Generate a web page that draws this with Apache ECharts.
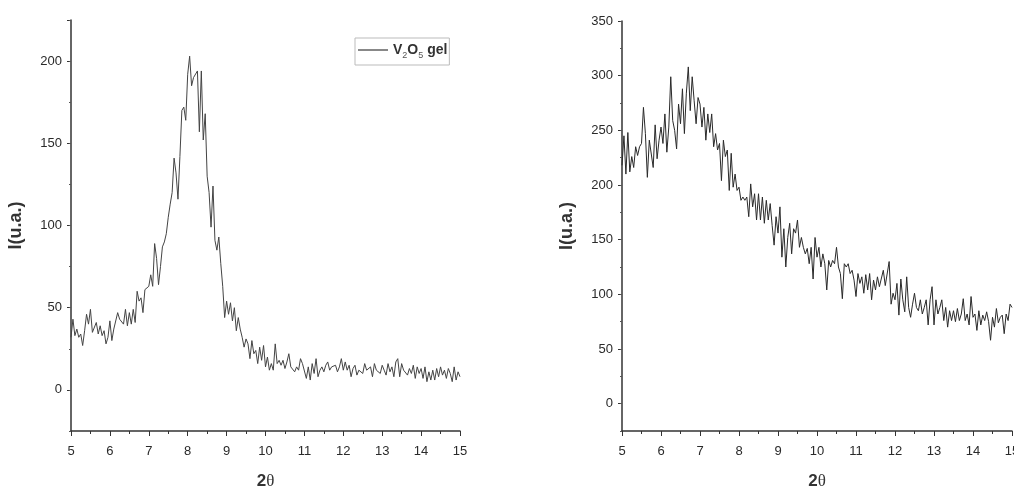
<!DOCTYPE html>
<html>
<head>
<meta charset="utf-8">
<script src="https://cdn.jsdelivr.net/npm/echarts@6/dist/echarts.min.js"></script>
<style>
  html, body { margin: 0; padding: 0; background: #fff; }
  #chart { width: 1014px; height: 490px; }
</style>
</head>
<body>
<div id="chart"></div>
<script>
// 2θ grid: 5 → 15, step 0.05 (20 points per degree)
let thetaStart = 5;
let thetaStep = 0.05;

// left pattern, V2O5 gel
let gelValues = [
  32, 43, 33, 37, 32, 34, 27, 36, 46, 40, 49, 35, 36, 41, 34, 39, 33, 36, 28, 32,
  42, 30, 37, 38, 47, 43, 44, 40, 49, 39, 47, 40, 49, 41, 60, 54, 56, 47, 61, 62,
  63, 70, 63, 89, 80, 64, 75, 87, 90, 95, 105, 113, 120, 141, 132, 116, 142, 170, 172, 164,
  192, 203, 185, 190, 191, 194, 157, 194, 152, 168, 130, 120, 99, 124, 91, 85, 93, 77, 63, 44,
  54, 46, 53, 42, 50, 36, 44, 37, 32, 26, 31, 28, 19, 30, 22, 24, 16, 26, 18, 27,
  14, 20, 12, 16, 12, 28, 16, 18, 15, 18, 13, 17, 22, 14, 13, 11, 14, 12, 19, 16,
  15, 7, 14, 6, 16, 10, 19, 8, 12, 14, 11, 15, 17, 12, 14, 13, 15, 11, 14, 19,
  12, 17, 12, 15, 8, 13, 15, 9, 12, 13, 10, 16, 12, 11, 14, 8, 16, 12, 13, 10,
  15, 12, 9, 16, 11, 14, 8, 17, 19, 8, 16, 12, 11, 9, 13, 10, 15, 7, 14, 10,
  13, 7, 14, 5, 11, 6, 12, 6, 13, 8, 14, 9, 12, 7, 13, 10, 5, 14, 6, 11,
  8
];

// right pattern
let rightValues = [
  218, 245, 210, 248, 212, 226, 216, 235, 227, 235, 238, 271, 247, 207, 241, 242, 216, 255, 224, 241,
  253, 238, 265, 230, 253, 299, 259, 250, 233, 274, 256, 288, 247, 284, 308, 268, 299, 277, 256, 280,
  274, 253, 271, 241, 265, 248, 265, 235, 247, 232, 238, 204, 241, 226, 232, 195, 229, 198, 210, 195,
  198, 186, 189, 186, 189, 171, 201, 180, 192, 168, 192, 168, 189, 165, 186, 168, 183, 163, 145, 171,
  156, 180, 134, 160, 125, 152, 165, 137, 160, 156, 168, 143, 152, 143, 137, 142, 128, 143, 114, 152,
  134, 143, 125, 137, 128, 104, 131, 125, 131, 128, 143, 125, 119, 96, 128, 125, 128, 119, 122, 113,
  98, 119, 110, 116, 101, 118, 104, 119, 95, 113, 104, 116, 107, 108, 122, 108, 107, 130, 91, 101,
  95, 110, 81, 114, 95, 84, 116, 88, 79, 91, 101, 88, 85, 95, 82, 88, 95, 72, 95, 107,
  72, 95, 82, 88, 95, 76, 88, 70, 85, 76, 85, 75, 87, 76, 82, 96, 76, 82, 72, 98,
  79, 82, 67, 85, 72, 81, 76, 84, 75, 58, 79, 70, 87, 74, 79, 81, 64, 82, 76, 91,
  88
];

function toPairs(values) {
  return values.map((v, i) => [+(thetaStart + i * thetaStep).toFixed(2), v]);
}

let chart = echarts.init(document.getElementById("chart"));
let font = "Liberation Sans, Arial, sans-serif";

function xAxisFor(gridIndex) {
  return {
    type: "value",
    gridIndex: gridIndex,
    min: 5,
    max: 15,
    interval: 1,
    name: "{a|2}{b|θ}",
    nameLocation: "middle",
    nameGap: 42,
    nameTextStyle: {
      rich: {
        a: { fontFamily: font, fontWeight: "bold", fontSize: 17, color: "#333" },
        b: { fontFamily: "Liberation Serif, serif", fontSize: 17, color: "#333" },
      },
    },
    axisLine: { onZero: false, lineStyle: { color: "#333", width: 1.5 } },
    axisTick: { inside: false, length: 5, lineStyle: { color: "#333" } },
    minorTick: { show: true, splitNumber: 2, length: 3, lineStyle: { color: "#333" } },
    axisLabel: { margin: 14, fontFamily: font, fontSize: 13, color: "#2a2a2a" },
    splitLine: { show: false },
  };
}

function yAxesFor(gridIndex, max) {
  return [
    {
      type: "value",
      gridIndex: gridIndex,
      position: "left",
      min: -25,
      max: max,
      splitNumber: Math.round((max + 25) / 50),
      name: "I(u.a.)",
      nameLocation: "middle",
      nameGap: 46,
      nameTextStyle: { fontFamily: font, fontWeight: "bold", fontSize: 18, color: "#333" },
      axisLine: { onZero: false, lineStyle: { color: "#333", width: 1.5 } },
      axisTick: { length: 4, lineStyle: { color: "#333" } },
      axisLabel: {
        margin: 9,
        fontFamily: font,
        fontSize: 13,
        color: "#2a2a2a",
        showMinLabel: false,
        formatter: (v) => (v % 50 === 0 ? String(v) : ""),
      },
      splitLine: { show: false },
    },
    {
      // half-step ticks only
      type: "value",
      gridIndex: gridIndex,
      position: "left",
      offset: 0,
      min: -25,
      max: max,
      interval: 25,
      axisLine: { show: false, onZero: false },
      axisTick: { length: 2, lineStyle: { color: "#555" } },
      axisLabel: { show: false },
      splitLine: { show: false },
    },
  ];
}

let option = {
  animation: false,
  backgroundColor: "#fff",
  grid: [
    { left: 71, top: 20, width: 389, height: 411, outerBoundsMode: "none" },
    { left: 622, top: 21, width: 390, height: 410, outerBoundsMode: "none" },
  ],
  legend: {
    data: [{ name: "V2O5 gel", icon: "rect" }],
    left: 355,
    top: 38,
    orient: "vertical",
    borderColor: "#bbb",
    borderWidth: 1,
    padding: [5, 2, 5, 3],
    itemWidth: 30,
    itemHeight: 2,
    itemGap: 4,
    formatter: () => "{n|V}{s|2}{n|O}{s|5}{n| gel}",
    textStyle: {
      rich: {
        n: { fontFamily: font, fontWeight: "bold", fontSize: 14, color: "#333", lineHeight: 20, verticalAlign: "middle" },
        s: { fontFamily: font, fontSize: 9, color: "#555", lineHeight: 20, verticalAlign: "bottom", padding: [7, 0, 0, 0] },
      },
    },
  },
  xAxis: [xAxisFor(0), xAxisFor(1)],
  yAxis: yAxesFor(0, 225).concat(yAxesFor(1, 350)),
  series: [
    {
      name: "V2O5 gel",
      type: "line",
      xAxisIndex: 0,
      yAxisIndex: 0,
      symbol: "none",
      lineStyle: { color: "#444", width: 1 },
      itemStyle: { color: "#888" },
      data: toPairs(gelValues),
    },
    {
      name: "right",
      type: "line",
      xAxisIndex: 1,
      yAxisIndex: 2,
      symbol: "none",
      lineStyle: { color: "#2a2a2a", width: 1 },
      data: toPairs(rightValues),
    },
  ],
};

chart.setOption(option);
</script>
</body>
</html>
